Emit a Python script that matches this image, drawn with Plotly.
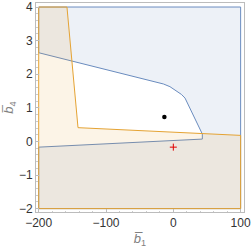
import plotly.graph_objects as go

# Blue region boundary (complement of the inner polygon bounded by these vertices)
blue_upper_x = [-200, -108.6, -14.7, -5, 5, 12, 17.4, 43.1]
blue_upper_y = [2.64, 2.18, 1.71, 1.63, 1.50, 1.40, 1.29, 0.22]
blue_lower_x = [43.1, -200]
blue_lower_y = [0.07, -0.17]

# Orange region vertices
orange_x = [-200, -200, -158, -141.6, 100, 100, -200]
orange_y = [-2, 4, 4, 0.41, 0.18, -2, -2]

# Box bounds
box_x = [-200, 100]
box_y = [-2, 4]

# Points
dot_x, dot_y = [-13.3], [0.73]
plus_x, plus_y = [0], [-0.17]

x_ticks = [-200, -100, 0, 100]
y_ticks = [-2, -1, 0, 1, 2, 3, 4]

BLUE = "#6a8cbf"
ORANGE = "#e5a333"

# Blue polygon: box minus inner region (inner region touches left edge)
bx = [box_x[0], box_x[1], box_x[1], box_x[0]]
by = [box_y[1], box_y[1], box_y[0], box_y[0]]
bx += [blue_lower_x[1], blue_lower_x[0]] + blue_upper_x[::-1] + [box_x[0]]
by += [blue_lower_y[1], blue_lower_y[0]] + blue_upper_y[::-1] + [box_y[1]]

fig = go.Figure()
fig.add_trace(go.Scatter(
    x=bx, y=by, mode="lines", fill="toself",
    fillcolor="rgba(94,129,181,0.11)",
    line=dict(color=BLUE, width=1), hoverinfo="skip", showlegend=False))
fig.add_trace(go.Scatter(
    x=orange_x, y=orange_y, mode="lines", fill="toself",
    fillcolor="rgba(225,156,36,0.11)",
    line=dict(color=ORANGE, width=1), hoverinfo="skip", showlegend=False))
fig.add_trace(go.Scatter(
    x=dot_x, y=dot_y, mode="markers",
    marker=dict(color="black", size=4.5), showlegend=False))
fig.add_trace(go.Scatter(
    x=plus_x, y=plus_y, mode="markers",
    marker=dict(symbol="cross-thin", color="#e00000", size=5,
                line=dict(color="#e00000", width=1)), showlegend=False))

FONT = "Liberation Sans, Arial, sans-serif"
axis_common = dict(
    showgrid=False, zeroline=False, showline=True, mirror=True,
    linecolor="#bcbcbc", linewidth=1, ticks="inside", ticklen=3,
    tickcolor="#bcbcbc", tickwidth=1, automargin=False,
    tickfont=dict(family=FONT, size=12, color="#333333"),
    minor=dict(ticks="inside", ticklen=1.5, tickcolor="#cccccc"),
)

fig.update_layout(
    width=251, height=248,
    margin=dict(l=36, r=7, t=3, b=36),
    paper_bgcolor="white", plot_bgcolor="white",
    xaxis=dict(range=[-204, 105], tickvals=x_ticks,
               ticktext=["\u2212200", "\u2212100", "0", "100"],
               title=dict(text="<i>b\u0305</i><sub>1</sub>", standoff=4,
                          font=dict(family=FONT, size=13, color="#808080")),
               **axis_common),
    yaxis=dict(range=[-2.1, 4.12], tickvals=y_ticks,
               ticktext=["\u22122", "\u22121", "0", "1", "2", "3", "4"],
               title=dict(text="<i>b\u0305</i><sub>4</sub>", standoff=2,
                          font=dict(family=FONT, size=13, color="#808080")),
               **axis_common),
)
fig.update_xaxes(minor_dtick=20)
fig.update_yaxes(minor_dtick=0.2)

fig.write_html("out.html", config={"displayModeBar": False},
               post_script="document.body.style.margin='0';document.body.style.overflow='hidden';")
